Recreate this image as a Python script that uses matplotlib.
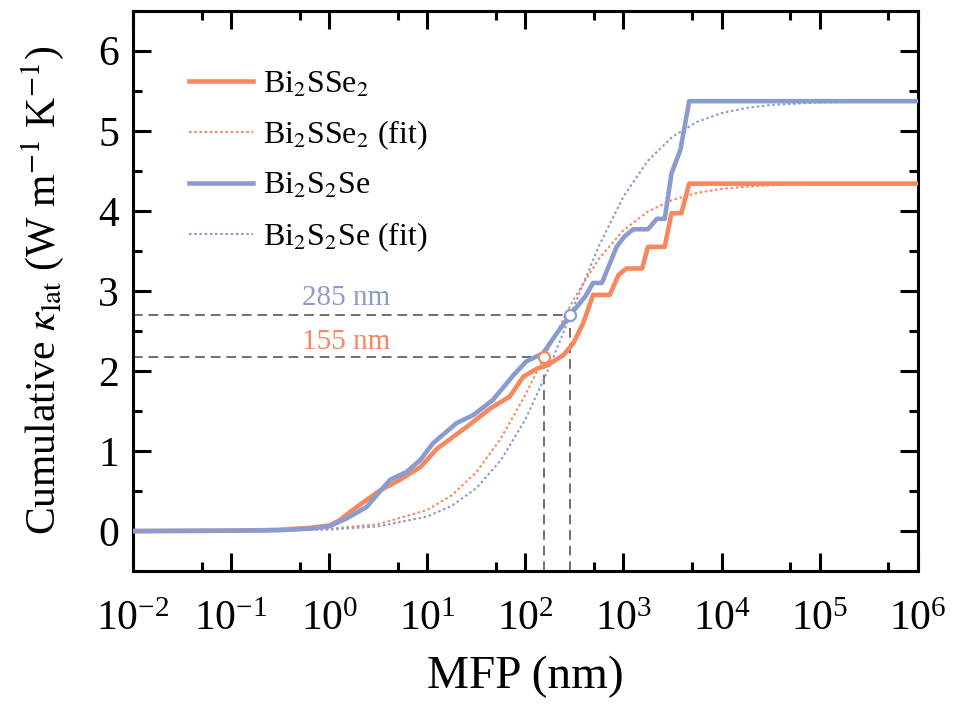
import numpy as np
import matplotlib
matplotlib.use("Agg")
import matplotlib.pyplot as plt
from matplotlib.ticker import LogLocator, MultipleLocator, NullFormatter

plt.rcParams['font.family'] = ['Liberation Serif', 'DejaVu Serif']
plt.rcParams['mathtext.fontset'] = 'stix'

# cumulative kappa vs MFP, exponents of MFP (nm)
ssb_exp = [-2, -1, -0.5, -0.2, 0, 0.1, 0.28, 0.52, 0.72, 0.93, 1.10, 1.40, 1.64,
           1.84, 1.98, 2.12, 2.22, 2.39, 2.49, 2.59, 2.69, 2.86, 2.95, 3.03, 3.19,
           3.25, 3.42, 3.49, 3.59, 3.67, 6]
ssb_kap = [0, 0.005, 0.015, 0.04, 0.07, 0.13, 0.30, 0.51, 0.64, 0.80, 1.03, 1.30, 1.53,
           1.68, 1.93, 2.03, 2.07, 2.20, 2.35, 2.60, 2.95, 2.95, 3.20, 3.28, 3.28,
           3.55, 3.55, 3.97, 3.97, 4.34, 4.34]

s2s_exp = [-2, -1, -0.5, -0.2, 0, 0.18, 0.38, 0.62, 0.79, 0.93, 1.06, 1.30, 1.47,
           1.67, 1.88, 2.01, 2.18, 2.32, 2.47, 2.61, 2.69, 2.78, 2.93, 3.01, 3.10,
           3.25, 3.34, 3.42, 3.49, 3.58, 3.67, 6]
s2s_kap = [0, 0.005, 0.012, 0.03, 0.06, 0.16, 0.30, 0.64, 0.74, 0.89, 1.10, 1.35, 1.45,
           1.64, 1.95, 2.12, 2.22, 2.47, 2.72, 2.93, 3.10, 3.10, 3.55, 3.68, 3.77,
           3.77, 3.90, 3.90, 4.47, 4.76, 5.37, 5.37]

# fitted curves, sampled every quarter decade
fit_exp = [-2, -1, 0, 0.5, 1, 1.25, 1.5, 1.75, 2, 2.25, 2.5, 2.75, 3, 3.25, 3.5,
           3.75, 4, 4.25, 4.5, 5, 6]
ssb_fit = [0.0003, 0.003, 0.028, 0.087, 0.263, 0.447, 0.736, 1.157, 1.703, 2.320,
           2.913, 3.404, 3.758, 3.992, 4.137, 4.224, 4.274, 4.302, 4.319, 4.333, 4.339]
s2s_fit = [0.0002, 0.002, 0.019, 0.059, 0.182, 0.316, 0.536, 0.885, 1.395, 2.063,
           2.823, 3.563, 4.179, 4.628, 4.926, 5.111, 5.221, 5.285, 5.322, 5.355, 5.369]

# characteristic MFP and half-kappa points
mfp_half = [155, 285]
kap_half = [2.17, 2.70]

c_or = '#F7875E'
c_bl = '#8A9BD0'
dots = (0, (1.2, 1.3))

fig, ax = plt.subplots(figsize=(9.57, 7.13), dpi=100)
fig.subplots_adjust(left=0.139, right=0.959, bottom=0.199, top=0.985)

ax.plot(10**np.array(ssb_exp), ssb_kap, color=c_or, lw=3.3, label='Bi$_2$SSe$_2$', zorder=3)
ax.plot(10**np.array(fit_exp), ssb_fit, color=c_or, lw=1.5, ls=dots, label='Bi$_2$SSe$_2$ (fit)', zorder=2)
ax.plot(10**np.array(s2s_exp), s2s_kap, color=c_bl, lw=3.3, label='Bi$_2$S$_2$Se', zorder=3)
ax.plot(10**np.array(fit_exp), s2s_fit, color=c_bl, lw=1.5, ls=dots, label='Bi$_2$S$_2$Se (fit)', zorder=2)

# guide lines to the half points
for m, k in zip(mfp_half, kap_half):
    ax.plot([1e-2, m], [k, k], color='#707070', lw=1.4, ls=(0, (5, 3)), zorder=1)
    ax.plot([m, m], [-0.5, k], color='#707070', lw=1.4, ls=(0, (5, 3)), zorder=1)
ax.plot(mfp_half[0], kap_half[0], 'o', ms=8, mfc='white', mec=c_or, mew=1.6, zorder=4)
ax.plot(mfp_half[1], kap_half[1], 'o', ms=8, mfc='white', mec=c_bl, mew=1.6, zorder=4)

ax.text(1.48, 2.91, '285 nm', color=c_bl, fontsize=21, ha='center', va='center')
ax.text(1.48, 2.36, '155 nm', color=c_or, fontsize=21, ha='center', va='center')

ax.set_xscale('log')
ax.set_xlim(1e-2, 1e6)
ax.set_ylim(-0.5, 6.5)
ax.xaxis.set_major_locator(LogLocator(base=10, numticks=20))
ax.xaxis.set_minor_locator(LogLocator(base=10, subs=[5], numticks=20))
ax.xaxis.set_minor_formatter(NullFormatter())
ax.yaxis.set_major_locator(MultipleLocator(1))
ax.yaxis.set_minor_locator(MultipleLocator(0.5))

ax.tick_params(which='both', direction='in', top=True, right=True, width=2.2, labelsize=30)
ax.tick_params(which='major', length=13)
ax.tick_params(axis='x', which='major', pad=21)
ax.tick_params(axis='y', which='major', pad=10)
ax.tick_params(which='minor', length=6.5)
for sp in ax.spines.values():
    sp.set_linewidth(2.2)

ax.set_xlabel('MFP (nm)', fontsize=34, labelpad=12)
ax.set_ylabel(r'Cumulative $\kappa_{\rm lat}$ (W m$^{-1}$ K$^{-1}$)', fontsize=30, labelpad=23)

ax.legend(loc='upper left', bbox_to_anchor=(0.035, 0.945), frameon=False, fontsize=23,
          handlelength=2.0, handletextpad=0.3, labelspacing=0.6)

plt.savefig('out.png', dpi=100)
